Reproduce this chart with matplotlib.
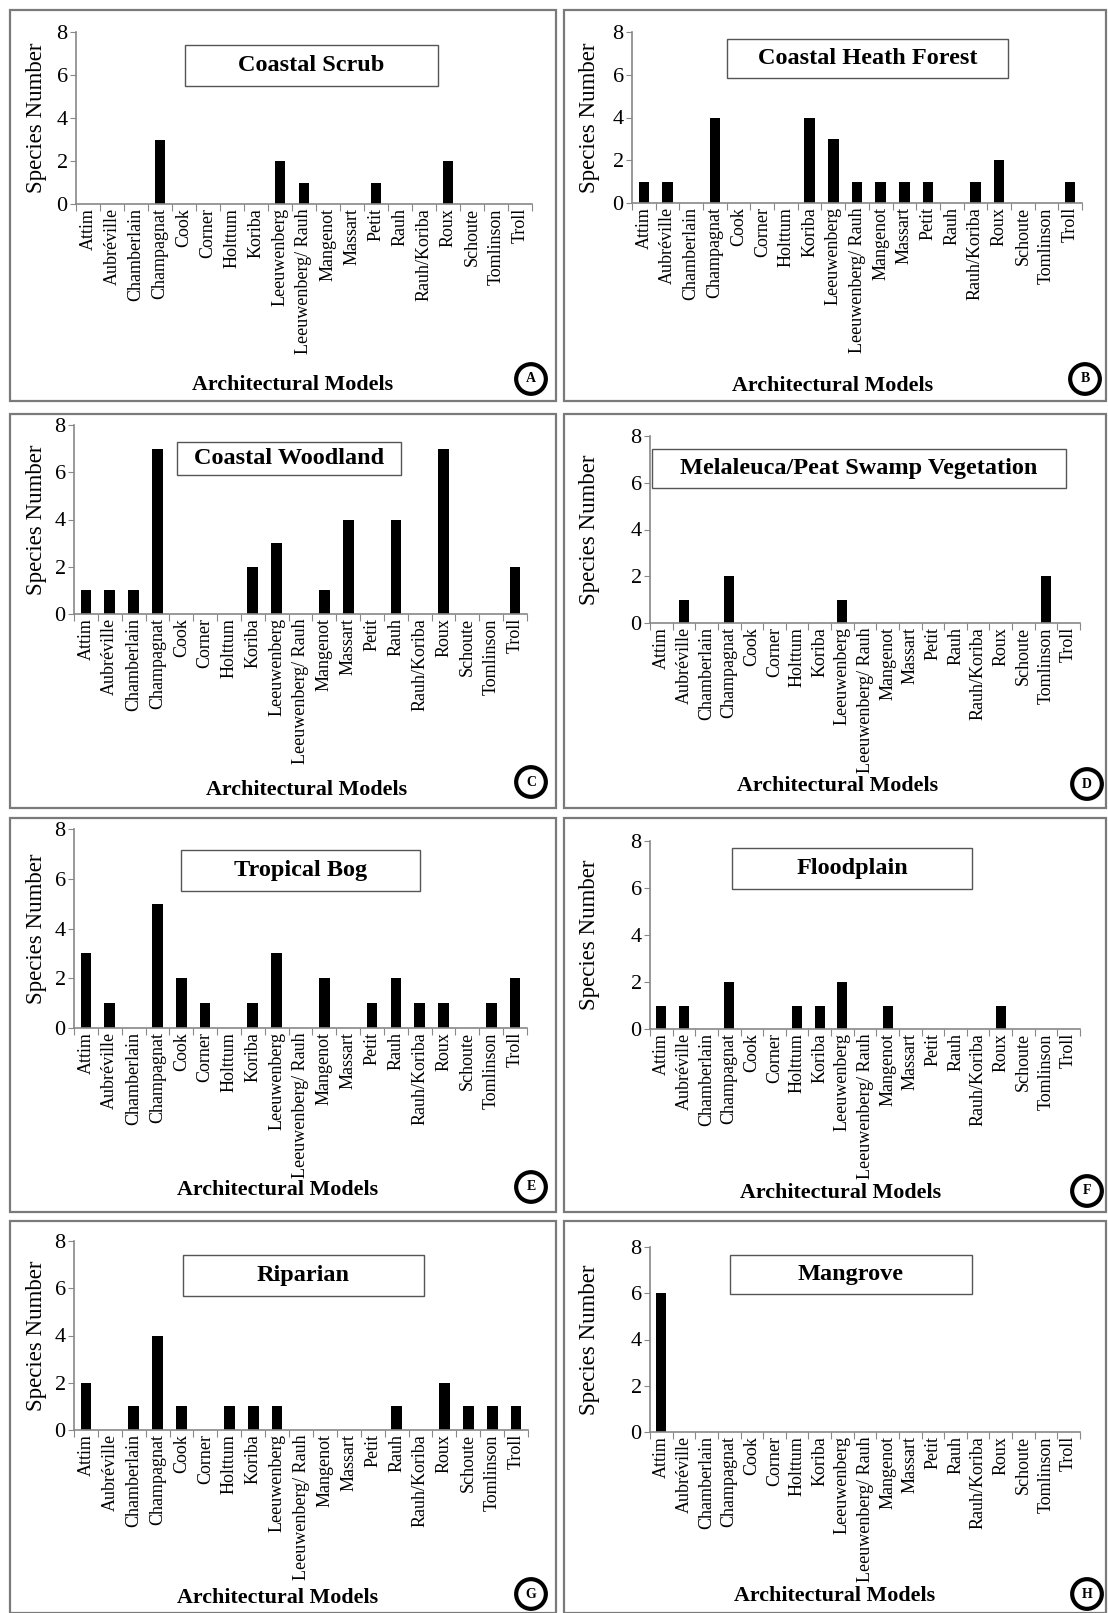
import matplotlib
matplotlib.use("Agg")
import matplotlib.pyplot as plt
import numpy as np
from matplotlib.patches import Rectangle

plt.rcParams["font.family"] = ["Liberation Serif", "DejaVu Serif"]

MODELS = [
    "Attim", "Aubréville", "Chamberlain", "Champagnat", "Cook", "Corner",
    "Holttum", "Koriba", "Leeuwenberg", "Leeuwenberg/ Rauh", "Mangenot",
    "Massart", "Petit", "Rauh", "Rauh/Koriba", "Roux", "Schoute",
    "Tomlinson", "Troll",
]

TITLES = [
    "Coastal Scrub", "Coastal Heath Forest", "Coastal Woodland",
    "Melaleuca/Peat Swamp Vegetation", "Tropical Bog", "Floodplain",
    "Riparian", "Mangrove",
]
LETTERS = ["A", "B", "C", "D", "E", "F", "G", "H"]

coastal_scrub = [0, 0, 0, 3, 0, 0, 0, 0, 2, 1, 0, 0, 1, 0, 0, 2, 0, 0, 0]
coastal_heath_forest = [1, 1, 0, 4, 0, 0, 0, 4, 3, 1, 1, 1, 1, 0, 1, 2, 0, 0, 1]
coastal_woodland = [1, 1, 1, 7, 0, 0, 0, 2, 3, 0, 1, 4, 0, 4, 0, 7, 0, 0, 2]
melaleuca_peat_swamp = [0, 1, 0, 2, 0, 0, 0, 0, 1, 0, 0, 0, 0, 0, 0, 0, 0, 2, 0]
tropical_bog = [3, 1, 0, 5, 2, 1, 0, 1, 3, 0, 2, 0, 1, 2, 1, 1, 0, 1, 2]
floodplain = [1, 1, 0, 2, 0, 0, 1, 1, 2, 0, 1, 0, 0, 0, 0, 1, 0, 0, 0]
riparian = [2, 0, 1, 4, 1, 0, 1, 1, 1, 0, 0, 0, 0, 1, 0, 2, 1, 1, 1]
mangrove = [6, 0, 0, 0, 0, 0, 0, 0, 0, 0, 0, 0, 0, 0, 0, 0, 0, 0, 0]

SERIES = [
    coastal_scrub, coastal_heath_forest, coastal_woodland, melaleuca_peat_swamp,
    tropical_bog, floodplain, riparian, mangrove,
]

W, H = 1108, 1613

# layout in pixels: panel box, axes box, title box, xlabel pos, circle pos, ylabel x
LAYOUT = [
    ((10, 10, 556, 401), (76, 32, 532, 204), (185, 45, 438, 86), (293, 385), (531, 379), 47),
    ((564, 10, 1106, 401), (632, 32, 1082, 203), (727, 39, 1008, 78), (833, 386), (1085, 379), 600),
    ((10, 414, 556, 808), (74, 425, 527, 614), (177, 442, 401, 475), (307, 790), (531, 782), 47),
    ((564, 414, 1106, 808), (650, 436, 1080, 623), (652, 449, 1066, 488), (838, 786), (1087, 784), 600),
    ((10, 818, 556, 1212), (74, 829, 527, 1028), (181, 850, 420, 891), (278, 1190), (531, 1187), 47),
    ((564, 818, 1106, 1212), (650, 841, 1080, 1029), (732, 848, 972, 889), (841, 1193), (1087, 1191), 600),
    ((10, 1221, 556, 1613), (74, 1241, 528, 1430), (183, 1255, 424, 1296), (278, 1598), (531, 1594), 47),
    ((564, 1221, 1106, 1613), (650, 1247, 1080, 1432), (730, 1255, 972, 1294), (835, 1596), (1087, 1594), 600),
]


def rect(box):
    l, t, r, b = box
    return [l / W, 1 - b / H, (r - l) / W, (b - t) / H]


def pt(x, y):
    return x / W, 1 - y / H


fig = plt.figure(figsize=(W / 100, H / 100), dpi=100)
x = np.arange(len(MODELS))

for values, title, letter, (box, axbox, tbox, xl, circ, ylx) in zip(SERIES, TITLES, LETTERS, LAYOUT):
    fig.patches.append(Rectangle(rect(box)[:2], *rect(box)[2:], transform=fig.transFigure,
                                 fill=False, ec="#7a7a7a", lw=1.6))

    ax = fig.add_axes(rect(axbox))
    ax.bar(x, values, width=0.45, color="black")
    ax.set_xlim(-0.5, len(MODELS) - 0.5)
    ax.set_ylim(0, 8)
    ax.set_yticks([0, 2, 4, 6, 8])
    ax.set_xticks(np.arange(len(MODELS) + 1) - 0.5)
    ax.set_xticklabels([])
    ax.set_xticks(x, minor=True)
    ax.set_xticklabels(MODELS, minor=True, rotation=90, fontsize=13)
    ax.tick_params(axis="x", which="major", length=5, color="#888888", direction="out")
    ax.tick_params(axis="x", which="minor", length=0, pad=3)
    ax.tick_params(axis="y", length=4, color="#888888", labelsize=16, pad=2)
    for s in ["top", "right"]:
        ax.spines[s].set_visible(False)
    for s in ["left", "bottom"]:
        ax.spines[s].set_color("#888888")
        ax.spines[s].set_linewidth(1.2)
    ax.set_ylabel("Species Number", fontsize=16.5)
    ax.yaxis.set_label_coords(ylx / W, 1 - (axbox[1] + axbox[3]) / 2 / H, transform=fig.transFigure)
    ax.patch.set_alpha(0)

    fig.patches.append(Rectangle(rect(tbox)[:2], *rect(tbox)[2:], transform=fig.transFigure,
                                 fc="white", ec="#555555", lw=1.0, zorder=5))
    cx, cy = pt((tbox[0] + tbox[2]) / 2, (tbox[1] + tbox[3]) / 2)
    fig.text(cx, cy, title, ha="center", va="center", fontsize=17.5, fontweight="bold", zorder=6)

    fig.text(*pt(*xl), "Architectural Models", ha="center", va="center",
             fontsize=15.8, fontweight="bold")
    fig.text(*pt(*circ), letter, ha="center", va="center", fontsize=10, fontweight="bold",
             bbox=dict(boxstyle="circle,pad=0.6", fc="white", ec="black", lw=3))

fig.savefig("out.png", dpi=100)
